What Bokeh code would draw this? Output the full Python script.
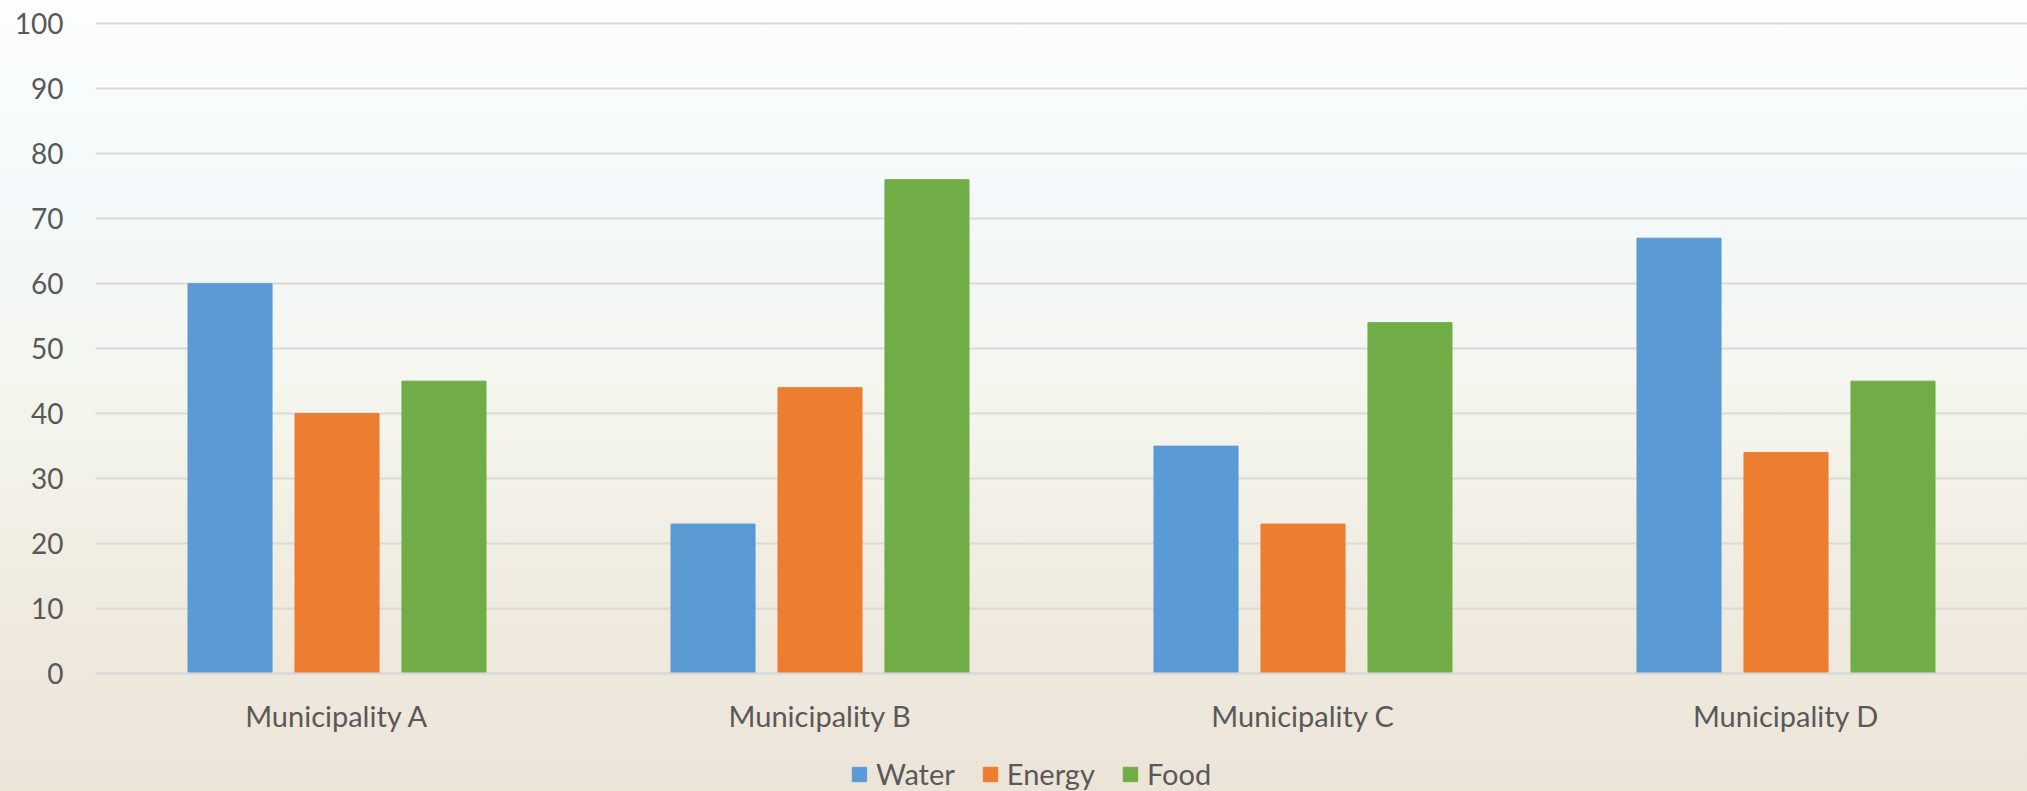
from bokeh.plotting import figure
from bokeh.models import ColumnDataSource, FactorRange, Range1d, FixedTicker, Legend, LegendItem
from bokeh.transform import dodge
from bokeh.embed import file_html
from bokeh.resources import INLINE

categories = ["Municipality A", "Municipality B", "Municipality C", "Municipality D"]
water = [60, 23, 35, 67]
energy = [40, 44, 23, 34]
food = [45, 76, 54, 45]
series_names = ["Water", "Energy", "Food"]
colors = ["#5b9bd5", "#ed7d31", "#70ad47"]
y_ticks = [0, 10, 20, 30, 40, 50, 60, 70, 80, 90, 100]

src = ColumnDataSource(dict(cat=categories, Water=water, Energy=energy, Food=food))

FONT = "Lato"
TXT = "#595959"

# frame spans to the canvas bottom; value 0 sits 118 px above it (6.5 px per unit)
p = figure(width=2027, height=791, x_range=FactorRange(*categories, range_padding=0),
           y_range=Range1d(-118 / 6.5, 100.5), output_backend="svg", toolbar_location=None,
           min_border_left=95, min_border_right=0, min_border_top=20, min_border_bottom=0)

p.styles = {"background": "linear-gradient(to bottom, #fdfefe 0%, #f3f9fa 25%, #f4f6ee 50%, #f0ebe0 75%, #ede4d8 100%)"}
p.background_fill_alpha = 0
p.border_fill_alpha = 0
p.outline_line_color = None

offsets = [-0.2215, 0.0, 0.2215]
renderers = []
for name, col, off in zip(series_names, colors, offsets):
    r = p.vbar(x=dodge("cat", off, range=p.x_range), top=name, width=0.174, source=src,
               fill_color=col, line_color=col, line_width=1)
    renderers.append(r)

p.yaxis.ticker = FixedTicker(ticks=y_ticks)
p.yaxis.axis_line_color = None
p.yaxis.major_tick_line_color = None
p.yaxis.minor_tick_line_color = None
p.yaxis.major_tick_out = 0
p.yaxis.major_tick_in = 0
p.yaxis.major_label_standoff = 32
p.yaxis.major_label_text_font = FONT
p.yaxis.major_label_text_font_size = "28px"
p.yaxis.major_label_text_color = TXT

p.xaxis.fixed_location = 0
p.xaxis.axis_line_color = "#d9d9d9"
p.xaxis.axis_line_width = 2
p.xaxis.major_tick_line_color = None
p.xaxis.minor_tick_line_color = None
p.xaxis.major_tick_out = 0
p.xaxis.major_tick_in = 0
p.xaxis.major_label_standoff = 24
p.xaxis.major_label_text_font = FONT
p.xaxis.major_label_text_font_size = "29px"
p.xaxis.major_label_text_color = TXT

p.xgrid.grid_line_color = None
p.ygrid.grid_line_color = "#d9d9d9"
p.ygrid.grid_line_width = 2

legend = Legend(items=[LegendItem(label=n, renderers=[r]) for n, r in zip(series_names, renderers)],
                orientation="horizontal", location=(755, 0))
legend.background_fill_alpha = 0
legend.border_line_color = None
legend.padding = 0
legend.margin = 0
legend.spacing = 26
legend.glyph_width = 18
legend.glyph_height = 18
legend.label_standoff = 8
legend.label_text_font = FONT
legend.label_text_font_size = "29px"
legend.label_text_color = TXT
p.add_layout(legend, "center")

open("out.html", "w").write(file_html(p, INLINE))
